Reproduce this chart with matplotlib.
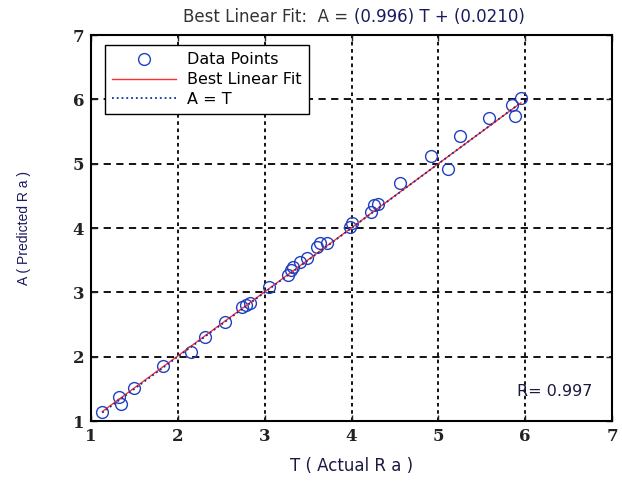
import numpy as np
import matplotlib
matplotlib.use("Agg")
import matplotlib.pyplot as plt

# Actual (T) vs predicted (A) Ra values
t_actual = [1.13, 1.32, 1.34, 1.50, 1.83, 2.15, 2.31, 2.54, 2.74, 2.79, 2.83,
            3.05, 3.27, 3.30, 3.33, 3.41, 3.49, 3.60, 3.64, 3.72, 3.98, 4.00,
            4.22, 4.26, 4.30, 4.56, 4.92, 5.11, 5.25, 5.58, 5.85, 5.88, 5.95]
a_pred = [1.14, 1.37, 1.26, 1.51, 1.86, 2.07, 2.31, 2.54, 2.77, 2.80, 2.84,
          3.08, 3.27, 3.35, 3.40, 3.47, 3.53, 3.71, 3.77, 3.77, 4.02, 4.08,
          4.25, 4.36, 4.37, 4.70, 5.12, 4.92, 5.43, 5.71, 5.91, 5.74, 6.02]

slope = 0.996
intercept = 0.0210
r_value = 0.997
ticks = [1, 2, 3, 4, 5, 6, 7]

W, H = 622, 486
fig = plt.figure(figsize=(W / 100, H / 100), dpi=100)
ax_l, ax_w = 91, 521
ax = fig.add_axes([ax_l / W, 0.1337, ax_w / W, 0.794])

ax.plot(t_actual, a_pred, 'o', mfc='none', mec='#2040c0', ms=8.5, mew=1.0,
        label='Data Points', zorder=3)
line_x = np.array([min(t_actual), max(t_actual)])
ax.plot(line_x, slope * line_x + intercept, '-', color='#ff3030', lw=1.0,
        label='Best Linear Fit', zorder=4)
ax.plot(line_x, line_x, ':', color='#1030a0', lw=1.3,
        label='A = T', zorder=5)

ax.set_xlim(1, 7)
ax.set_ylim(1, 7)
ax.set_xticks(ticks)
ax.set_yticks(ticks)
ax.set_xticklabels([str(t) for t in ticks], family='DejaVu Serif',
                   fontweight='bold', fontsize=12)
ax.set_yticklabels([str(t) for t in ticks], family='DejaVu Serif',
                   fontweight='bold', fontsize=12)
ax.tick_params(direction='in', length=4, width=1, top=True, right=True,
               pad=5, colors='#222222')

for t in ticks[1:-1]:
    ax.axvline(t, color='black', lw=1.3, ls=(0, (2, 2)), zorder=1)
    ax.axhline(t, color='black', lw=1.3, ls=(0, (4, 3)), zorder=1)

for s in ax.spines.values():
    s.set_linewidth(1.5)

leg = ax.legend(loc='upper left', bbox_to_anchor=(14 / ax_w, 1 - 10 / 386),
                borderaxespad=0, frameon=True, fancybox=False,
                edgecolor='black', handlelength=4.0, labelspacing=0.3,
                borderpad=0.45, handletextpad=0.7,
                prop={'family': 'DejaVu Sans', 'size': 11.5})
leg.get_frame().set_linewidth(1.0)
leg.get_frame().set_alpha(1)

ax.text((517 - ax_l) / ax_w, 0.065, 'R= %.3f' % r_value, transform=ax.transAxes,
        fontsize=11.5, family='DejaVu Sans', color='#1a1a40', ha='left')

fig.text(348 / W, 0.955, 'Best Linear Fit:  A =', family='DejaVu Sans',
         fontsize=12, ha='right', color='#333333')
fig.text(354 / W, 0.955, '(%.3f) T + (%.4f)' % (slope, intercept),
         family='DejaVu Sans', fontsize=12, ha='left', color='#1a1a60')

ax.set_xlabel('T ( Actual R a )', family='DejaVu Sans', fontsize=12,
              color='#1a1a40', labelpad=9)
ax.set_ylabel('A ( Predicted R a )', family='Liberation Sans', fontsize=10,
              color='#1a1a60', labelpad=30)

fig.savefig('out.png', dpi=100)
